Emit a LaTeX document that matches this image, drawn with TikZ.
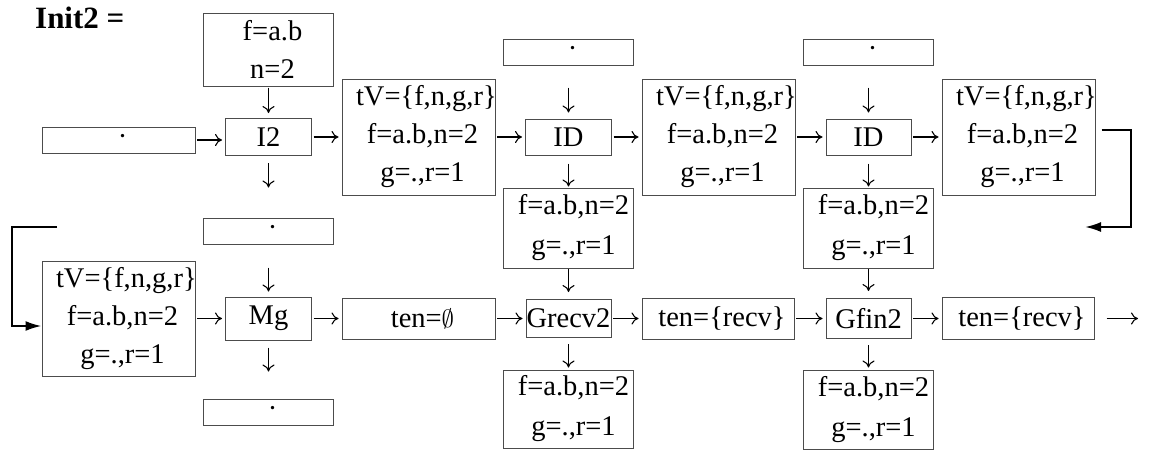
\documentclass[tikz,border=0pt]{standalone}
\usepackage{fontspec}
\setmainfont{Liberation Serif}
\usetikzlibrary{arrows.meta}
\newcommand\fs{\fontsize{28.5}{38}\selectfont}
\newcommand\pd{\hspace*{8pt}}
\newcommand\pf{\hspace*{10pt}}
\newcommand\pt{\hspace*{14pt}}
\tikzset{
  box/.style={draw=black!70, line width=1pt, inner sep=0pt, align=center, font=\fs},
  bx/.style 2 args={minimum width=#1, text width=#1, minimum height=#2},
  ar/.style={line width=1.1pt, -{To[length=7pt,width=12pt]}},
  loopar/.style={line width=2pt, -{Latex[length=16pt,width=10pt]}},
  title/.style={font=\fontsize{31}{36}\selectfont\bfseries, inner sep=0pt, anchor=base west}
}
\begin{document}
\begin{tikzpicture}[x=1pt,y=-1pt]
\useasboundingbox (0,0) rectangle (1152,450);
\node[title] (ttl) at (35,28) {Init2 =};
% row 1
\node[box, bx={130pt}{73pt}] (top1) at (268.5,49.5) {\pd f=a.b\\\pd n=2};
\node[box, bx={153pt}{26pt}] (dotL) at (118.5,140) {\pd ·};
\node[box, bx={86pt}{37pt}] (I2) at (268.5,137) {I2};
\node[box, bx={153pt}{116pt}] (tV1) at (418.5,137) {\pt tV=\{f,n,g,r\}\\\pd f=a.b,n=2\\\pd g=.,r=1};
\node[box, bx={130pt}{26pt}] (dotT1) at (568.5,52) {\pd ·};
\node[box, bx={86pt}{36pt}] (ID1) at (568.5,137) {ID};
\node[box, bx={153pt}{116pt}] (tV2) at (718.5,137) {\pt tV=\{f,n,g,r\}\\\pd f=a.b,n=2\\\pd g=.,r=1};
\node[box, bx={130pt}{26pt}] (dotT2) at (868.5,52) {\pd ·};
\node[box, bx={85pt}{36pt}] (ID2) at (868.5,137) {ID};
\node[box, bx={153pt}{116pt}] (tV3) at (1018.5,137) {\pt tV=\{f,n,g,r\}\\\pd f=a.b,n=2\\\pd g=.,r=1};
% middle
\node[box, bx={130pt}{80pt}] (fb1) at (568.5,228) {\pf f=a.b,n=2\\[2pt]\pf g=.,r=1};
\node[box, bx={130pt}{80pt}] (fb2) at (868.5,228) {\pf f=a.b,n=2\\[2pt]\pf g=.,r=1};
\node[box, bx={130pt}{26pt}] (dotM) at (268.5,231) {\pd ·};
% row 2
\node[box, bx={153pt}{115pt}] (tV4) at (118.5,318.5) {\pt tV=\{f,n,g,r\}\\\pd f=a.b,n=2\\\pd g=.,r=1};
\node[box, bx={86pt}{43pt}] (Mg) at (268.5,318.5) {Mg};
\node[box, bx={153pt}{41pt}] (ten0) at (418.5,318.5) {\pd ten=$\emptyset$};
\node[box, bx={85pt}{38pt}] (Grecv) at (568.5,318.5) {Grecv2};
\node[box, bx={152pt}{41pt}] (tenR1) at (718,318.5) {\pd ten=\{recv\}};
\node[box, bx={85pt}{40pt}] (Gfin) at (868.5,318.5) {Gfin2};
\node[box, bx={152pt}{42pt}] (tenR2) at (1018,318.5) {\pd ten=\{recv\}};
% bottom
\node[box, bx={130pt}{78pt}] (fb3) at (568.5,409) {\pf f=a.b,n=2\\[2pt]\pf g=.,r=1};
\node[box, bx={130pt}{79pt}] (fb4) at (868.5,409.5) {\pf f=a.b,n=2\\[2pt]\pf g=.,r=1};
\node[box, bx={130pt}{26pt}] (dotB) at (268.5,412) {\pd ·};
\coordinate (out) at (1138,318.5);
\coordinate (lpR) at (1085,227);
\coordinate (lpL) at (57,227);
% horizontal arrows
\begin{scope}[shorten <=1.5pt, shorten >=3pt]
\draw[ar] (dotL.east) -- (dotL.east -| I2.west);
\draw[ar] (I2.east) -- (I2.east -| tV1.west);
\draw[ar] (tV1.east) -- (tV1.east -| ID1.west);
\draw[ar] (ID1.east) -- (ID1.east -| tV2.west);
\draw[ar] (tV2.east) -- (tV2.east -| ID2.west);
\draw[ar] (ID2.east) -- (ID2.east -| tV3.west);
\draw[ar] (tV4.east) -- (tV4.east -| Mg.west);
\draw[ar] (Mg.east) -- (Mg.east -| ten0.west);
\draw[ar] (ten0.east) -- (ten0.east -| Grecv.west);
\draw[ar] (Grecv.east) -- (Grecv.east -| tenR1.west);
\draw[ar] (tenR1.east) -- (tenR1.east -| Gfin.west);
\draw[ar] (Gfin.east) -- (Gfin.east -| tenR2.west);
\end{scope}
\draw[ar, shorten <=12pt] (tenR2.east) -- (out);
% vertical arrows
\draw[ar, shorten <=1pt, shorten >=5pt] (top1.south) -- (top1.south |- I2.north);
\draw[ar, shorten <=7pt, shorten >=30pt] (I2.south) -- (I2.south |- dotM.north);
\draw[ar, shorten <=23pt, shorten >=5pt] (dotM.south) -- (dotM.south |- Mg.north);
\draw[ar, shorten <=7pt, shorten >=27pt] (Mg.south) -- (Mg.south |- dotB.north);
\draw[ar, shorten <=22pt, shorten >=6pt] (dotT1.south) -- (dotT1.south |- ID1.north);
\draw[ar, shorten <=8pt, shorten >=1pt] (ID1.south) -- (ID1.south |- fb1.north);
\draw[ar, shorten <=0.5pt, shorten >=7pt] (fb1.south) -- (fb1.south |- Grecv.north);
\draw[ar, shorten <=6pt, shorten >=2pt] (Grecv.south) -- (Grecv.south |- fb3.north);
\draw[ar, shorten <=22pt, shorten >=6pt] (dotT2.south) -- (dotT2.south |- ID2.north);
\draw[ar, shorten <=8pt, shorten >=1pt] (ID2.south) -- (ID2.south |- fb2.north);
\draw[ar, shorten <=0.5pt, shorten >=7pt] (fb2.south) -- (fb2.south |- Gfin.north);
\draw[ar, shorten <=6pt, shorten >=2pt] (Gfin.south) -- (Gfin.south |- fb4.north);
% loop connector
\draw[loopar] ([xshift=6pt,yshift=7pt]tV3.east) -- ++(29,0) |- (lpR);
\draw[loopar] (lpL) -- (12,227) |- ([yshift=-7.5pt]tV4.west);
\end{tikzpicture}
\end{document}
